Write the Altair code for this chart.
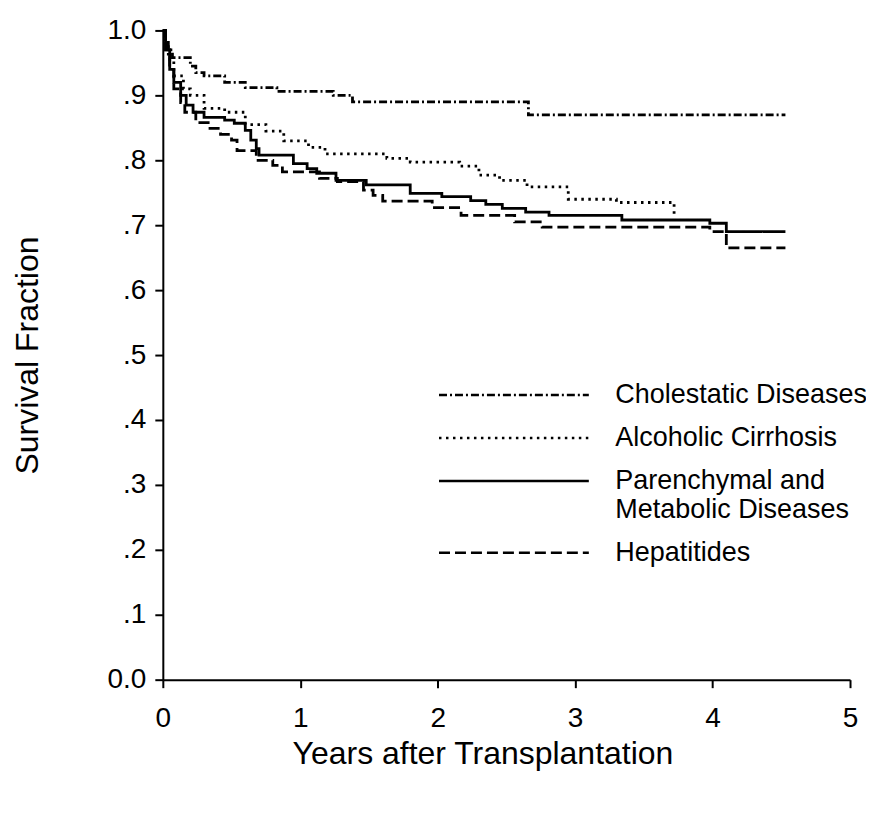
import altair as alt
import pandas as pd

# ---- data ----
series_names = ["Cholestatic Diseases", "Alcoholic Cirrhosis",
                "Parenchymal and Metabolic Diseases", "Hepatitides"]

chol_t = [0, 0.02, 0.04, 0.07, 0.20, 0.24, 0.30, 0.45, 0.60, 0.83, 1.24, 1.38, 2.66, 4.53]
chol_s = [1.0, 0.985, 0.97, 0.958, 0.945, 0.935, 0.93, 0.92, 0.912, 0.906, 0.90, 0.89, 0.87, 0.87]

alc_t = [0, 0.02, 0.04, 0.08, 0.15, 0.20, 0.30, 0.45, 0.60, 0.75, 0.88, 1.06, 1.18,
         1.63, 1.80, 2.16, 2.30, 2.45, 2.65, 2.95, 3.30, 3.72]
alc_s = [1.0, 0.975, 0.955, 0.93, 0.91, 0.90, 0.88, 0.874, 0.855, 0.845, 0.83, 0.82, 0.81,
         0.803, 0.797, 0.791, 0.777, 0.769, 0.759, 0.74, 0.735, 0.713]

par_t = [0, 0.02, 0.05, 0.08, 0.13, 0.17, 0.22, 0.30, 0.45, 0.52, 0.60, 0.64, 0.68,
         0.70, 0.95, 1.05, 1.12, 1.26, 1.48, 1.80, 2.03, 2.24, 2.35, 2.47, 2.64,
         2.81, 3.34, 3.98, 4.10, 4.53]
par_s = [1.0, 0.97, 0.94, 0.92, 0.90, 0.885, 0.874, 0.866, 0.862, 0.857, 0.846, 0.831, 0.818,
         0.808, 0.795, 0.787, 0.78, 0.769, 0.762, 0.749, 0.744, 0.738, 0.732, 0.726, 0.72,
         0.715, 0.708, 0.703, 0.69, 0.69]

hep_t = [0, 0.02, 0.05, 0.08, 0.13, 0.16, 0.24, 0.33, 0.42, 0.50, 0.54, 0.68, 0.80,
         0.87, 1.14, 1.27, 1.46, 1.53, 1.60, 1.96, 2.17, 2.56, 2.76, 3.98, 4.10, 4.53]
hep_s = [1.0, 0.97, 0.94, 0.91, 0.889, 0.874, 0.858, 0.849, 0.84, 0.831, 0.815, 0.80, 0.792,
         0.782, 0.772, 0.767, 0.754, 0.746, 0.737, 0.727, 0.715, 0.705, 0.697, 0.69, 0.665, 0.665]

y_ticks = [0.0, 0.1, 0.2, 0.3, 0.4, 0.5, 0.6, 0.7, 0.8, 0.9, 1.0]
x_ticks = [0, 1, 2, 3, 4, 5]

rows = []
for name, ts, ss in zip(series_names,
                        [chol_t, alc_t, par_t, hep_t],
                        [chol_s, alc_s, par_s, hep_s]):
    for t, s in zip(ts, ss):
        rows.append({"group": name, "t": t, "s": s})
df = pd.DataFrame(rows)

dash_range = [[8, 3, 2, 3], [2.5, 4.5], [1, 0], [11, 5]]

FONT = "Liberation Sans"

chart = alt.Chart(df).mark_line(
    interpolate="step-after", color="black", strokeWidth=2.8
).encode(
    x=alt.X("t:Q",
            scale=alt.Scale(domain=[0, 5], nice=False, zero=False),
            axis=alt.Axis(values=x_ticks, format="d", grid=False,
                          title="Years after Transplantation",
                          tickSize=8, labelPadding=17, labelFontSize=28,
                          labelFlush=False,
                          titleFontSize=32, titleFontWeight="normal",
                          titleX=320, titleY=74,
                          titleBaseline="middle", titleAlign="center")),
    y=alt.Y("s:Q",
            scale=alt.Scale(domain=[0, 1], nice=False),
            axis=alt.Axis(values=y_ticks, grid=False,
                          labelExpr="datum.value > 0 && datum.value < 1 ? substring(format(datum.value, '.1f'), 1) : format(datum.value, '.1f')",
                          title="Survival Fraction",
                          tickSize=8, labelPadding=9, labelFontSize=28,
                          labelFlush=False,
                          titleFontSize=32, titleFontWeight="normal",
                          titleX=-135, titleY=325,
                          titleAngle=-90, titleBaseline="middle", titleAlign="center")),
    strokeDash=alt.StrokeDash(
        "group:N",
        sort=series_names,
        scale=alt.Scale(domain=series_names, range=dash_range),
        legend=alt.Legend(
            orient="none", legendX=275, legendY=352, title=None,
            symbolType="stroke", symbolSize=22500, symbolStrokeWidth=2.5,
            symbolStrokeColor="black", clipHeight=26,
            labelFontSize=27, labelOffset=25,
            labelLimit=400, rowPadding=16, padding=0, labelColor="black",
            labelFont=FONT,
            labelExpr="datum.label == 'Parenchymal and Metabolic Diseases' ? ['Parenchymal and', 'Metabolic Diseases'] : datum.label",
        ),
    ),
).properties(
    width=688, height=650,
    background="white",
    autosize=alt.AutoSizeParams(type="none"),
    padding={"left": 155, "top": 22, "right": 16, "bottom": 110},
).configure_view(
    strokeWidth=0, strokeOpacity=0
).configure_axis(
    domainColor="black", domainWidth=2, tickColor="black", tickWidth=2,
    labelColor="black", titleColor="black", labelFont=FONT, titleFont=FONT,
    titleFontWeight="normal"
)

chart.save("out.html", embed_options={"renderer": "svg", "actions": False})
